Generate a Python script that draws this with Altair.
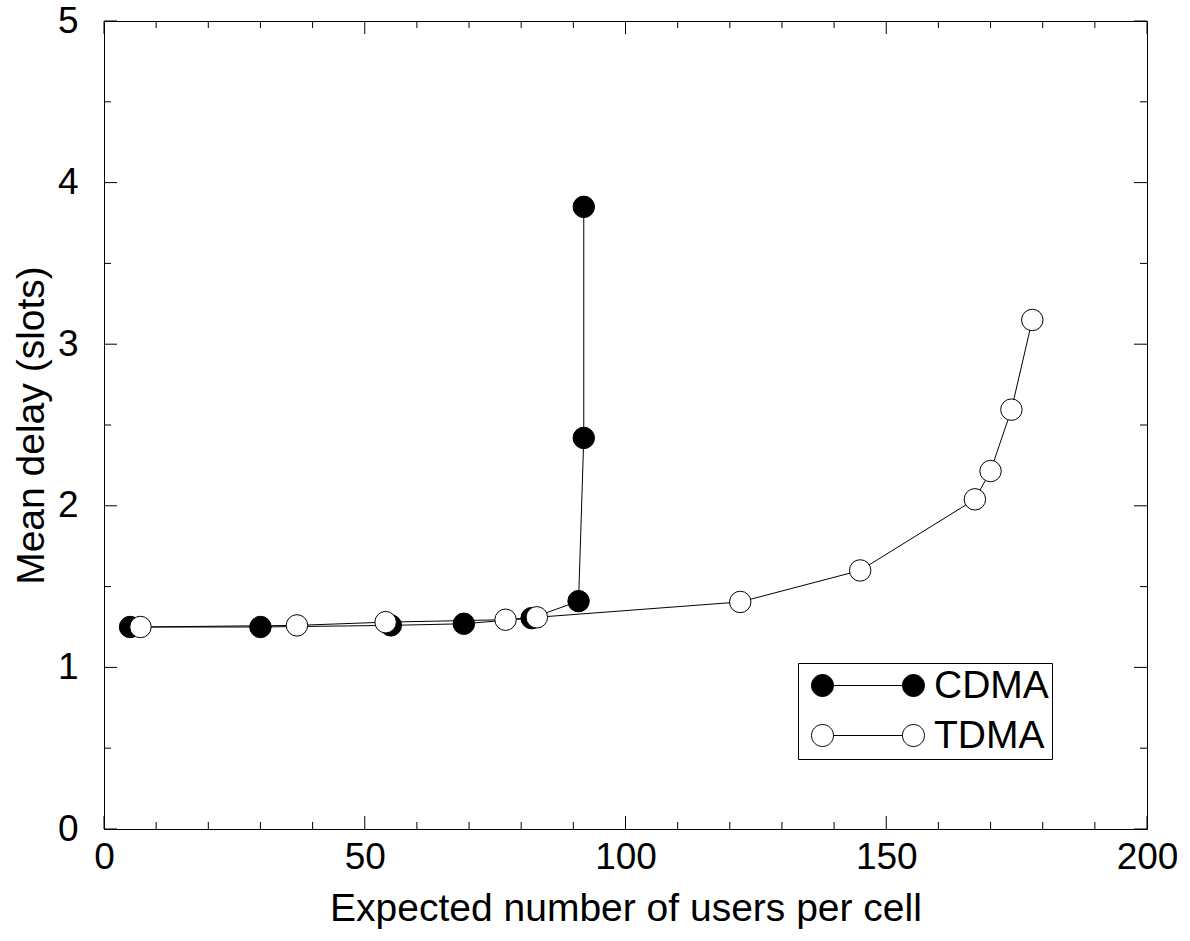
import altair as alt
import pandas as pd

# Mean delay versus expected number of users per cell
cdma_users = [5, 30, 55, 69, 82, 91, 92, 92]
cdma_delay = [1.25, 1.25, 1.26, 1.27, 1.305, 1.41, 2.42, 3.85]
tdma_users = [7, 37, 54, 77, 83, 122, 145, 167, 170, 174, 178]
tdma_delay = [1.25, 1.26, 1.28, 1.295, 1.31, 1.405, 1.60, 2.04, 2.215, 2.595, 3.15]
series_names = ["CDMA", "TDMA"]
series_fill = ["black", "white"]

# axis tick positions
x_major = [0, 50, 100, 150, 200]
x_minor = [10, 20, 30, 40, 60, 70, 80, 90, 110, 120, 130, 140, 160, 170, 180, 190]
y_major = [0, 1, 2, 3, 4, 5]
y_minor = [0.5, 1.5, 2.5, 3.5, 4.5]

W, H = 1043, 808
FONT = "Liberation Sans"
MAJOR_LEN, MINOR_LEN = 13, 7

rows = []
for name, xs, ys in [("CDMA", cdma_users, cdma_delay), ("TDMA", tdma_users, tdma_delay)]:
    for i, (xv, yv) in enumerate(zip(xs, ys)):
        rows.append({"series": name, "users": xv, "delay": yv, "idx": i})
data = pd.DataFrame(rows)

x_scale = alt.Scale(domain=[0, 200], nice=False, zero=False)
y_scale = alt.Scale(domain=[0, 5], nice=False, zero=False)

x_axis = alt.Axis(title="Expected number of users per cell", values=x_major,
                  ticks=False, domain=False, grid=False, labelFont=FONT,
                  labelFontSize=37, labelColor="black", labelPadding=10,
                  titleFont=FONT, titleFontSize=39, titleFontWeight="normal",
                  titleColor="black", titlePadding=14, labelFlush=False)
y_axis = alt.Axis(title="Mean delay (slots)", values=y_major, format="d",
                  ticks=False, domain=False, grid=False, labelFont=FONT,
                  labelFontSize=37, labelColor="black", labelPadding=26,
                  titleFont=FONT, titleFontSize=39, titleFontWeight="normal",
                  titleColor="black", titlePadding=6, labelFlush=False)

# legend symbol: two circles joined by a line
LEGEND_PATH = ("M-1,0A1,1,0,1,0,1,0A1,1,0,1,0,-1,0"
               "M1,0L7.27,0"
               "M7.27,0A1,1,0,1,0,9.27,0A1,1,0,1,0,7.27,0")

base = alt.Chart(data)

lines = base.mark_line(color="black", strokeWidth=1).encode(
    x=alt.X("users:Q", scale=x_scale, axis=x_axis),
    y=alt.Y("delay:Q", scale=y_scale, axis=y_axis),
    detail="series:N",
    order="idx:Q",
)

points = base.mark_point(filled=True, size=460, stroke="black", strokeWidth=1,
                         opacity=1, shape="circle").encode(
    x=alt.X("users:Q", scale=x_scale, axis=x_axis),
    y=alt.Y("delay:Q", scale=y_scale, axis=y_axis),
    fill=alt.Fill("series:N",
                  scale=alt.Scale(domain=series_names, range=series_fill),
                  legend=alt.Legend(title=None, orient="none", legendX=694, legendY=642,
                                    strokeColor="black", padding=3,
                                    symbolType=LEGEND_PATH, symbolSize=484,
                                    symbolOffset=2,
                                    symbolStrokeColor="black", symbolStrokeWidth=1,
                                    symbolOpacity=1, labelFont=FONT, labelFontSize=39,
                                    labelColor="black", labelOffset=92, rowPadding=10)),
    order="series_order:Q",
).transform_calculate(series_order="datum.series == 'CDMA' ? 0 : 1")


def x_ticks(values, length):
    df = pd.DataFrame({"users": values})
    r = alt.Chart(df).mark_rule(color="black", strokeWidth=1)
    x = alt.X("users:Q", scale=x_scale, axis=x_axis)
    return (r.encode(x=x, y=alt.value(H), y2=alt.value(H - length))
            + r.encode(x=x, y=alt.value(0), y2=alt.value(length)))


def y_ticks(values, length):
    df = pd.DataFrame({"delay": values})
    r = alt.Chart(df).mark_rule(color="black", strokeWidth=1)
    y = alt.Y("delay:Q", scale=y_scale, axis=y_axis)
    return (r.encode(y=y, x=alt.value(0), x2=alt.value(length))
            + r.encode(y=y, x=alt.value(W), x2=alt.value(W - length)))


ticks = (x_ticks(x_major, MAJOR_LEN) + x_ticks(x_minor, MINOR_LEN)
         + y_ticks(y_major, MAJOR_LEN) + y_ticks(y_minor, MINOR_LEN))

chart = alt.layer(lines, ticks, points).properties(
    width=W, height=H,
    autosize=alt.AutoSizeParams(type="none"),
    padding={"left": 104, "top": 21, "right": 43, "bottom": 112},
    background="white",
).configure_view(stroke="black", strokeWidth=1)

chart.save("out.html", embed_options={"renderer": "svg", "actions": False})
